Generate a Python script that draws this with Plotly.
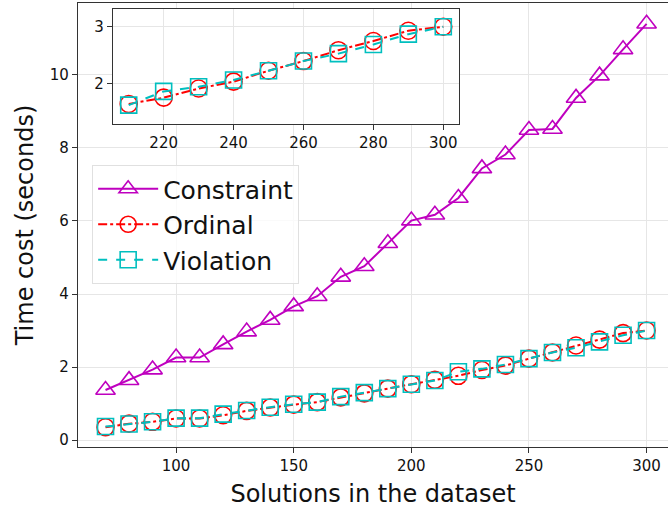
import plotly.graph_objects as go

x_vals = [70, 80, 90, 100, 110, 120, 130, 140, 150, 160, 170, 180,
          190, 200, 210, 220, 230, 240, 250, 260, 270, 280, 290, 300]
constraint = [1.37, 1.64, 1.93, 2.26, 2.26, 2.62, 2.97, 3.29, 3.66, 3.94, 4.47, 4.76,
              5.39, 6.01, 6.17, 6.63, 7.44, 7.82, 8.49, 8.52, 9.37, 9.98, 10.70, 11.40]
ordinal = [0.35, 0.45, 0.50, 0.59, 0.59, 0.68, 0.80, 0.89, 0.97, 1.04, 1.17, 1.28,
           1.41, 1.53, 1.65, 1.76, 1.92, 2.04, 2.23, 2.40, 2.59, 2.75, 2.93, 3.00]
violation = [0.37, 0.44, 0.50, 0.60, 0.60, 0.71, 0.81, 0.90, 0.98, 1.04, 1.19, 1.30,
             1.41, 1.53, 1.63, 1.87, 1.95, 2.07, 2.23, 2.40, 2.53, 2.69, 2.87, 3.00]
inset_start = 210

MAG = "#bf00bf"
RED = "#ff0000"
CYAN = "#00bfbf"
FONT = "DejaVu Sans"

ins_idx = [i for i, v in enumerate(x_vals) if v >= inset_start]
xi = [x_vals[i] for i in ins_idx]
oi = [ordinal[i] for i in ins_idx]
vi = [violation[i] for i in ins_idx]

fig = go.Figure()

styles = [
    ("Constraint", constraint, MAG, "solid", "triangle-up-open", 17),
    ("Ordinal", ordinal, RED, "dashdot", "circle-open", 17),
    ("Violation", violation, CYAN, "dash", "square-open", 16),
]
for name, ys, col, dash, sym, sz in styles:
    fig.add_trace(go.Scatter(
        x=x_vals, y=ys, name=name, mode="lines+markers",
        line=dict(color=col, width=2, dash=dash),
        marker=dict(symbol=sym, size=sz, color=col, line=dict(width=1.6, color=col)),
        xaxis="x", yaxis="y"))

for name, ys, col, dash, sym, sz in styles[1:]:
    sub = oi if name == "Ordinal" else vi
    fig.add_trace(go.Scatter(
        x=xi, y=sub, name=name, mode="lines+markers", showlegend=False,
        line=dict(color=col, width=2, dash=dash),
        marker=dict(symbol=sym, size=sz, color=col, line=dict(width=1.6, color=col)),
        xaxis="x2", yaxis="y2"))

axis_common = dict(
    showgrid=True, gridcolor="#e6e6e6", gridwidth=1,
    showline=True, linecolor="#333333", linewidth=1.2,
    ticks="outside", ticklen=5, tickcolor="#333333", tickwidth=1,
    zeroline=False, tickfont=dict(family=FONT, size=15, color="#111111"),
)

fig.update_layout(
    width=668, height=511,
    margin=dict(l=78, r=0, t=3, b=64),
    paper_bgcolor="white", plot_bgcolor="white",
    font=dict(family=FONT, color="#111111"),
    xaxis=dict(**axis_common, range=[58.3, 309.1], domain=[0, 1], mirror=True,
               tickvals=[100, 150, 200, 250, 300],
               title=dict(text="Solutions in the dataset", font=dict(size=24, family=FONT), standoff=11)),
    yaxis=dict(**axis_common, range=[-0.19, 11.97], domain=[0, 1],
               tickvals=[0, 2, 4, 6, 8, 10],
               title=dict(text="Time cost (seconds)", font=dict(size=24, family=FONT), standoff=9)),
    xaxis2=dict(**axis_common, range=[205.5, 304.5], domain=[0.0593, 0.6458], anchor="y2",
                mirror=True, tickvals=[220, 240, 260, 280, 300]),
    yaxis2=dict(**axis_common, range=[1.30, 3.31], domain=[0.7275, 0.9865], anchor="x2",
                mirror=True, tickvals=[2, 3]),
    legend=dict(x=0.024, y=0.635, xanchor="left", yanchor="top",
                bgcolor="rgba(255,255,255,0.8)", bordercolor="#e0e0e0", borderwidth=1,
                font=dict(family=FONT, size=25, color="#111111"),
                itemwidth=60, tracegroupgap=0),
    showlegend=True,
)

fig.add_shape(type="rect", xref="x2 domain", yref="y2 domain", x0=0, x1=1, y0=0, y1=1,
              fillcolor="white", line=dict(width=0), layer="below")

fig.write_html("out.html")
